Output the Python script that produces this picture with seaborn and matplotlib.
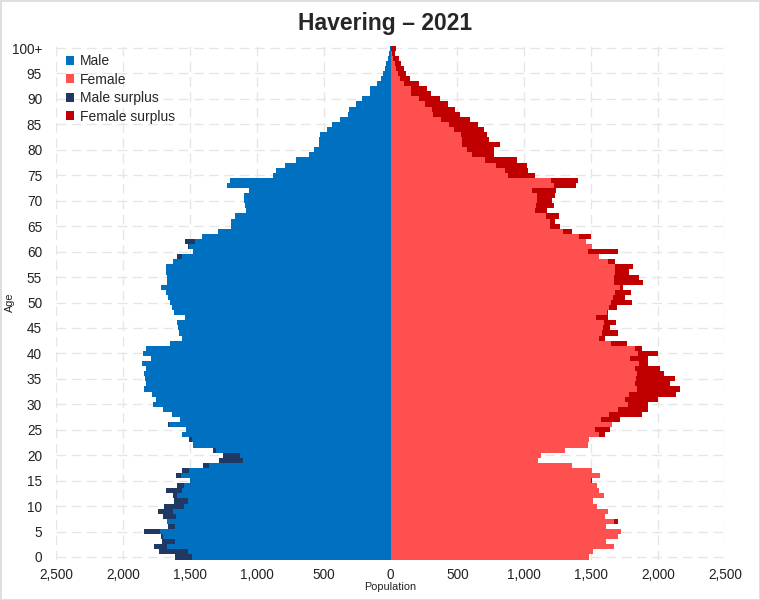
import matplotlib
matplotlib.use("Agg")
import matplotlib.pyplot as plt
from matplotlib.patches import Patch, Rectangle
import seaborn as sns
import pandas as pd
import numpy as np

# ---- data (age 0 .. 100+) ----
age_labels = [str(a) for a in range(100)] + ["100+"]

male = [1610, 1729, 1766, 1705, 1716, 1841, 1660, 1667, 1699, 1734,
        1692, 1617, 1625, 1679, 1597, 1500, 1600, 1560, 1398, 1281,
        1249, 1324, 1473, 1505, 1555, 1530, 1660, 1575, 1630, 1704,
        1774, 1749, 1784, 1843, 1824, 1836, 1843, 1824, 1858, 1789,
        1848, 1828, 1649, 1562, 1580, 1587, 1597, 1537, 1617, 1634,
        1649, 1660, 1675, 1712, 1667, 1667, 1679, 1679, 1625, 1592,
        1473, 1510, 1535, 1411, 1287, 1194, 1194, 1162, 1077, 1087,
        1094, 1094, 1057, 1219, 1202, 878, 858, 790, 709, 610,
        572, 535, 535, 530, 473, 436, 381, 318, 311, 261,
        212, 152, 152, 100, 70, 55, 42, 30, 18, 8, 5]

female = [1485, 1513, 1667, 1610, 1697, 1722, 1612, 1697, 1600, 1625,
          1547, 1517, 1592, 1555, 1542, 1505, 1567, 1505, 1356, 1100,
          1124, 1306, 1475, 1485, 1600, 1642, 1654, 1716, 1878, 1923,
          1928, 1998, 2134, 2164, 2090, 2127, 2045, 2015, 1923, 1923,
          2002, 1883, 1766, 1604, 1699, 1642, 1684, 1625, 1625, 1692,
          1804, 1754, 1799, 1741, 1886, 1858, 1779, 1816, 1679, 1560,
          1699, 1505, 1460, 1500, 1356, 1264, 1226, 1256, 1169, 1224,
          1207, 1226, 1237, 1386, 1401, 1082, 1025, 1020, 945, 771,
          771, 821, 734, 721, 697, 654, 597, 517, 485, 428,
          368, 306, 274, 211, 149, 117, 100, 75, 60, 35, 40]

x_ticks = [-2500, -2000, -1500, -1000, -500, 0, 500, 1000, 1500, 2000, 2500]
y_tick_ages = [str(a) for a in range(0, 100, 5)] + ["100+"]

legend_labels = ["Male", "Female", "Male surplus", "Female surplus"]
c_male, c_female, c_msur, c_fsur = "#0070c0", "#ff5050", "#203864", "#c00000"

df = pd.DataFrame({"age": age_labels, "male": male, "female": female})
df["common"] = np.minimum(df["male"], df["female"])
df["male_neg"] = -df["male"]
df["common_neg"] = -df["common"]
order = age_labels[::-1]  # 100+ at top

sns.set_style("white")
plt.rcParams["font.family"] = ["Liberation Sans", "DejaVu Sans"]

fig = plt.figure(figsize=(7.6, 6.0), dpi=100)
ax = fig.add_axes([56 / 760, 1 - 559.5 / 600, (725 - 56) / 760, (559.5 - 45.5) / 600])

kw = dict(y="age", order=order, orient="h", width=1.0, saturation=1,
          errorbar=None, linewidth=0, ax=ax)
sns.barplot(data=df, x="male_neg", color=c_msur, **kw)
sns.barplot(data=df, x="common_neg", color=c_male, **kw)
sns.barplot(data=df, x="female", color=c_fsur, **kw)
sns.barplot(data=df, x="common", color=c_female, **kw)

ax.set_xlim(-2500, 2500)
ax.set_ylim(100.5, -0.5)

pos = {lab: i for i, lab in enumerate(order)}
ax.set_yticks([pos[a] for a in y_tick_ages])
ax.set_yticklabels(y_tick_ages, fontsize=9.8)
ax.set_xticks(x_ticks)
ax.set_xticklabels([f"{abs(v):,}" for v in x_ticks], fontsize=9.8)
ax.tick_params(axis="both", length=0, colors="#222222")
ax.tick_params(axis="x", pad=6)
ax.tick_params(axis="y", pad=10)

ax.set_axisbelow(True)
ax.grid(True, axis="both", color="#e6e6e6", linewidth=1.0, linestyle=(0, (7, 4)))
for s in ax.spines.values():
    s.set_visible(False)

ax.set_xlabel("Population", fontsize=7.8, color="#222222")
ax.xaxis.set_label_coords(0.5, -(582 - 559.5) / 514)
ax.set_ylabel("Age", fontsize=7.8, color="#222222")
ax.yaxis.set_label_coords(-(56 - 15) / 669, 0.5)

fig.suptitle("Havering – 2021", fontsize=16.5, fontweight="bold", y=1 - 12 / 600,
             va="top", x=385 / 760)

handles = [Patch(facecolor=c, edgecolor="none") for c in [c_male, c_female, c_msur, c_fsur]]
fig.legend(handles, legend_labels, loc="upper left",
           bbox_to_anchor=(66 / 760, 1 - 54 / 600), frameon=False,
           fontsize=10, handlelength=0.6, handleheight=0.6, handletextpad=0.4,
           labelspacing=0.33, borderpad=0, borderaxespad=0)

fig.patches.append(Rectangle((0.5 / 760, 0.5 / 600), 759 / 760, 599 / 600,
                             transform=fig.transFigure, fill=False,
                             edgecolor="#d9d9d9", linewidth=1.2))

fig.savefig("out.png", dpi=100)
